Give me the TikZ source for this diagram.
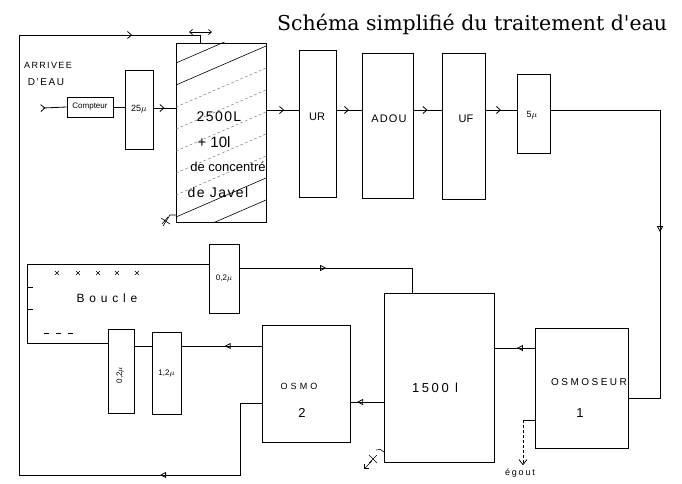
\documentclass[tikz,border=0pt]{standalone}
\usepackage{fontspec}
\setsansfont{Liberation Sans}
\newfontfamily\titlefont{DejaVu Serif}
\usepackage{tikz}
\usetikzlibrary{arrows.meta,decorations.markings,calc}

\newcommand{\handsize}[1]{\sffamily\fontsize{#1}{#1}\selectfont}
\newcommand{\spaced}[1]{\addfontfeatures{LetterSpace=#1}}

\tikzset{
  box/.style={draw, line width=0.9pt, inner sep=0pt},
  pipe/.style={line width=0.8pt},
  chev/.style={postaction={decorate}, decoration={markings,
    mark=at position #1 with {\arrow{Straight Barb[length=4pt,width=7pt]}}}},
  chev/.default=0.5,
  tri/.style={postaction={decorate}, decoration={markings,
    mark=at position #1 with {\arrow{Triangle[open,length=6pt,width=6pt]}}}},
  tri/.default=0.5,
}

\begin{document}
\begin{tikzpicture}[x=1pt, y=-1pt]
  \useasboundingbox (0,0) rectangle (682,483);

  % Title
  \node[anchor=base west, inner sep=0pt, font=\titlefont\fontsize{20.5}{24}\selectfont] (title) at (277,30) {Schéma simplifié du traitement d'eau};

  % Inlet and first treatment line
  \node[font=\handsize{9}\spaced{15}] (arrivee) at (48,65) {ARRIVEE};
  \node[font=\handsize{10}\spaced{15}] (deau) at (46,82) {D'EAU};
  \node[box, minimum width=46, minimum height=20, font=\handsize{8}] (cpt) at (90,107) {Compteur};
  \node[box, minimum width=28, minimum height=79, font=\handsize{9}] (f25) at (139,109.5) {25$\mu$};
  \node[box, minimum width=90, minimum height=179] (tank) at (221,132.5) {};
  \node[box, minimum width=37, minimum height=147] (ur) at (317.5,123.5) {};
  \node[box, minimum width=51, minimum height=145] (adou) at (387.5,125.5) {};
  \node[box, minimum width=43, minimum height=146] (uf) at (463.5,126) {};
  \node[box, minimum width=33, minimum height=79] (f5) at (533.5,113.5) {};
  \node[font=\handsize{11}] at (317,117) {UR};
  \node[font=\handsize{11}\spaced{10}] at (389,119) {ADOU};
  \node[font=\handsize{11}] at (466,119) {UF};
  \node[font=\handsize{9}] at (532,115) {5$\mu$};

  % Tank hatching and text
  \begin{scope}
    \clip (tank.south west) rectangle (tank.north east);
    \foreach \yy in {19,41,63,85,217,239}
      \draw[line width=0.6pt] (176,\yy) -- ++(90,-39);
    \foreach \yy in {107,129,151,173,195}
      \draw[line width=0.5pt, densely dashed, gray] (176,\yy) -- ++(90,-39);
  \end{scope}
  \node[font=\handsize{14}\spaced{10}] (vol) at (219,117) {2500L};
  \node[font=\handsize{15}] (jav1) at (214,142) {+ 10l};
  \node[font=\handsize{13}] (jav2) at (228,167) {de concentré};
  \node[font=\handsize{14}\spaced{10}] (jav3) at (218,192) {de Javel};

  % Valve under the tank
  \draw[line width=0.6pt] (176,215) -- (170,215) -- (163,226);
  \draw[line width=0.6pt] (161,218) -- (170,224) (162,224) -- (168,217);

  % Lower units
  \node[box, minimum width=110, minimum height=169] (bac) at (439,377.5) {};
  \node[font=\handsize{13}\spaced{20}] at (435,388) {1500 l};
  \node[box, minimum width=93, minimum height=120] (osmoseur) at (581.5,388) {};
  \node[font=\handsize{10}\spaced{25}] at (589,382) {OSMOSEUR};
  \node[font=\handsize{13}] at (580,413) {1};
  \node[box, minimum width=88, minimum height=117] (osmo2) at (306,383.5) {};
  \node[font=\handsize{9}\spaced{35}] at (299,386) {OSMO};
  \node[font=\handsize{13}] at (302,413) {2};
  \node[box, minimum width=30, minimum height=69, font=\handsize{8}] (f02a) at (224,278.5) {0,2$\mu$};
  \node[box, minimum width=29, minimum height=82, font=\handsize{8}] (f12) at (166.5,373) {1,2$\mu$};
  \node[box, minimum width=26, minimum height=84] (f02b) at (121,371) {};
  \node[font=\handsize{8}, rotate=90] at (120,375) {0,2$\mu$};
  \node[font=\handsize{12}\spaced{40}] (boucle) at (107,298) {Boucle};

  % Valve under the 1500 l tank
  \draw[line width=0.6pt] (384,452) to[bend right=40] (376,450);
  \draw[line width=0.6pt] (369,455) -- (377,463) (369,463) -- (377,455);
  \draw[line width=0.6pt, -{Straight Barb[length=3pt]}] (372,461) -- (364,469);

  % Named points of the piping
  \coordinate (inlet) at (43,108);
  \coordinate (main) at (300,110);
  \coordinate (cornerNE) at (660,110);
  \coordinate (cornerSE) at (660,398);
  \coordinate (osline) at (500,348);
  \coordinate (o2line) at (360,402);
  \coordinate (topline) at (412,268);
  \coordinate (lowline) at (200,346);
  \coordinate (bcTL) at (27,264);
  \coordinate (bcBL) at (27,343);
  \coordinate (ret1) at (240,403);
  \coordinate (ret2) at (240,475);
  \coordinate (ret3) at (19,475);
  \coordinate (ret4) at (19,35);
  \coordinate (ret5) at (200,35);
  \coordinate (eg) at (523,420);

  % Upper line
  \draw[pipe, chev=0.1] (inlet) -- (cpt.west);
  \draw[pipe] (cpt.east) -- (f25.west |- cpt.east);
  \draw[pipe, chev] (f25.east |- inlet) -- (tank.west |- inlet);
  \draw[pipe, chev=0.55] (tank.east |- main) -- (ur.west |- main);
  \draw[pipe, chev] (ur.east |- main) -- (adou.west |- main);
  \draw[pipe, chev] (adou.east |- main) -- (uf.west |- main);
  \draw[pipe, chev] (uf.east |- main) -- (f5.west |- main);
  \draw[pipe, tri=0.54] (f5.east |- main) -- (cornerNE) -- (cornerSE) -- (osmoseur.east |- cornerSE);

  % Lower line
  \draw[pipe, tri=0.44] (osmoseur.west |- osline) -- (bac.east |- osline);
  \draw[pipe, tri=0.8] (bac.west |- o2line) -- (osmo2.east |- o2line);
  \draw[pipe, tri=0.46] (osmo2.west |- lowline) -- (f12.east |- lowline);
  \draw[pipe] (f12.west |- lowline) -- (f02b.east |- lowline);
  \draw[pipe] (f02b.west |- bcBL) -- (bcBL) -- (bcTL) -- (f02a.west |- bcTL);
  \draw[pipe, tri=0.44] (f02a.east |- topline) -- (topline) -- (bac.north -| topline);

  % Return to the tank
  \draw[pipe, postaction={decorate}, decoration={markings,
      mark=at position 0.184 with {\arrow{Triangle[open,length=6pt,width=6pt]}},
      mark=at position 0.92 with {\arrow{Straight Barb[length=4pt,width=7pt]}}}]
    (osmo2.west |- ret1) -- (ret1) -- (ret2) -- (ret3) -- (ret4) -- (ret5) -- (tank.north -| ret5);
  \draw[line width=0.7pt, {Straight Barb[length=3pt,width=5pt]}-{Straight Barb[length=3pt,width=5pt]}] (189,32) -- (212,32);

  % Boucle marks
  \foreach \xx in {57,78,98,117,137}
    \draw[line width=0.4pt] (\xx-2,271) -- (\xx+2,275) (\xx-2,275) -- (\xx+2,271);
  \draw[line width=0.5pt] (27,287) -- (33,287) (27,309) -- (33,309);
  \foreach \xx in {44,56,68}
    \draw[line width=0.5pt] (\xx,333) -- ++(5,0);

  % Drain
  \node[font=\handsize{9}\spaced{20}] (egout) at (520,473) {égout};
  \draw[pipe] (osmoseur.west |- eg) -- (eg);
  \draw[pipe, densely dashed, -{Straight Barb[length=5pt,width=8pt]}] (eg) -- (egout.north -| eg);
\end{tikzpicture}
\end{document}
